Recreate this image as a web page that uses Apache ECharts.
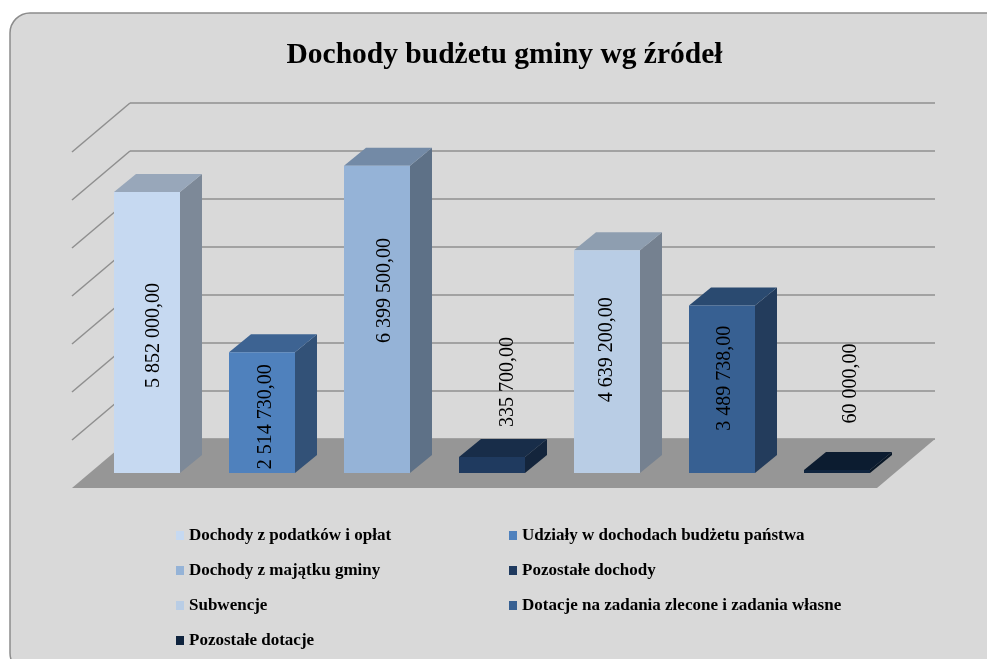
<!DOCTYPE html>
<html><head><meta charset="utf-8">
<style>html,body{margin:0;padding:0;background:#fff}#c{width:987px;height:659px}</style>
<script src="https://cdn.jsdelivr.net/npm/echarts@6/dist/echarts.min.js"></script>
</head><body><div id="c"></div>
<script>
const titleText = 'Dochody budżetu gminy wg źródeł';
const categories = ['Dochody z podatków i opłat','Udziały w dochodach budżetu państwa','Dochody z majątku gminy','Pozostałe dochody','Subwencje','Dotacje na zadania zlecone i zadania własne','Pozostałe dotacje'];
const values = [5852000,2514730,6399500,335700,4639200,3489738,60000];
const wallTicks = [1000000,2000000,3000000,4000000,5000000,6000000,7000000];
const colors = ['#c6d9f1','#4f81bd','#95b3d7','#1f3a5f','#b9cde5','#376092','#0f243e'];
const labelNudge = [[7,3],[4,4],[8,-29],[16,-83],[0,-12],[3,-11],[14,-88]];

const serif = '"Liberation Serif","Times New Roman",serif';
const wallDepth = [-58, 49];
const barDepth = [22, -18];
const barFrac = 66/115;

function shade(hex, k){
  const n = parseInt(hex.slice(1),16);
  const c = [n>>16,(n>>8)&255,n&255].map(v=>Math.round(v*k));
  return 'rgb('+c.join(',')+')';
}
function fmt(v){
  return String(v).replace(/\B(?=(\d{3})+$)/g,' ')+',00';
}
function barRender(i){
  return function(params, api){
    const base = api.coord([api.value(0),0]);
    const top = api.coord([api.value(0),api.value(1)]);
    const w = api.size([1,0])[0]*barFrac;
    const x0 = base[0]-w/2, x1 = base[0]+w/2, yb = base[1], yt = top[1];
    const [dx,dy] = barDepth;
    const col = colors[i];
    const nudge = labelNudge[i];
    return {type:'group',children:[
      {type:'polygon',shape:{points:[[x1,yb],[x1+dx,yb+dy],[x1+dx,yt+dy],[x1,yt]]},style:{fill:shade(col,0.63)}},
      {type:'polygon',shape:{points:[[x0,yt],[x1,yt],[x1+dx,yt+dy],[x0+dx,yt+dy]]},style:{fill:shade(col,0.77)}},
      {type:'rect',shape:{x:x0,y:yt,width:w,height:yb-yt},style:{fill:col}},
      {type:'text',x:base[0]+nudge[0],y:(yb+yt)/2+nudge[1],rotation:Math.PI/2,
        style:{text:fmt(values[i]),fill:'#000',font:'20px '+serif,align:'center',verticalAlign:'middle'}}
    ]};
  };
}
const barSeries = categories.map((name,i)=>({
  type:'custom',name,xAxisIndex:1,yAxisIndex:1,z:5+i,clip:false,
  itemStyle:{color:colors[i]},
  encode:{x:0,y:1},
  data:[[i,values[i]]],
  renderItem:barRender(i)
}));
const chart = echarts.init(document.getElementById('c'),null,{renderer:'canvas'});
const legendBase = {
  orient:'vertical',icon:'rect',itemWidth:8,itemHeight:9,itemGap:18,
  selectedMode:false,
  textStyle:{fontFamily:serif,fontSize:17,fontWeight:'bold',color:'#000',lineHeight:16}
};
chart.setOption({
  animation:false,
  backgroundColor:'#fff',
  title:{text:titleText,left:499.5,top:35,textAlign:'center',
    textStyle:{fontFamily:serif,fontSize:29.5,fontWeight:'bold',color:'#000'}},
  graphic:[{type:'rect',z:-10,silent:true,shape:{x:10,y:13,width:1000,height:660,r:20},
    style:{fill:'#d9d9d9',stroke:'#8c8c8c',lineWidth:1.5}}],
  legend:[
    Object.assign({},legendBase,{left:171,top:522,data:categories.filter((_,i)=>i%2===0)}),
    Object.assign({},legendBase,{left:504,top:522,data:categories.filter((_,i)=>i%2===1)})
  ],
  grid:[
    {left:130,top:103,width:805,height:336,show:false},
    {left:89.5,top:137,width:805,height:336,show:false}
  ],
  xAxis:[
    {type:'value',gridIndex:0,min:0,max:1,show:false},
    {type:'category',gridIndex:1,data:categories,show:false}
  ],
  yAxis:[
    {type:'value',gridIndex:0,min:0,max:7000000,interval:1000000,
      axisLine:{show:false},axisTick:{show:false},axisLabel:{show:false},
      splitLine:{show:true,lineStyle:{color:'#8f8f8f',width:1.5}}},
    {type:'value',gridIndex:1,min:0,max:7000000,show:false}
  ],
  series:[
    {type:'custom',xAxisIndex:0,yAxisIndex:0,z:2,clip:false,silent:true,
      encode:{x:0,y:1},data:wallTicks.map(v=>[0,v]),
      renderItem(p,api){
        const a = api.coord([api.value(0),api.value(1)]);
        return {type:'line',shape:{x1:a[0],y1:a[1],x2:a[0]+wallDepth[0],y2:a[1]+wallDepth[1]},
          style:{stroke:'#8f8f8f',lineWidth:1.5}};
      }},
    {type:'custom',xAxisIndex:0,yAxisIndex:0,z:3,clip:false,silent:true,
      encode:{x:0,y:1},data:[[0,0]],
      renderItem(p,api){
        const a = api.coord([0,0]), b = api.coord([1,0]);
        const [dx,dy] = wallDepth;
        return {type:'polygon',shape:{points:[[a[0],a[1]],[b[0],b[1]],[b[0]+dx,b[1]+dy],[a[0]+dx,a[1]+dy]]},
          style:{fill:'#969696'}};
      }}
  ].concat(barSeries)
});
</script></body></html>
